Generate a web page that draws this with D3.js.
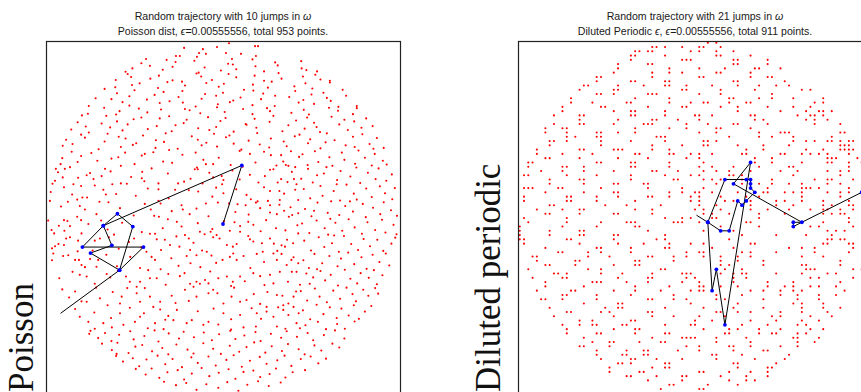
<!DOCTYPE html>
<html>
<head>
<meta charset="utf-8">
<script src="https://cdn.jsdelivr.net/npm/d3@7"></script>
<style>
  html, body { margin: 0; padding: 0; background: #fff; }
  svg { display: block; }
</style>
</head>
<body>
<svg id="chart" width="861" height="392"></svg>
<script>
// Grid step shared by both panels; every coordinate below is given in grid steps.
const GRID = 1 / 41;

// Panel titles and side labels
const titles = [
  ["Random trajectory with 10 jumps in ω", "Poisson dist, ϵ=0.00555556, total 953 points."],
  ["Random trajectory with 21 jumps in ω", "Diluted Periodic ϵ, ϵ=0.00555556, total 911 points."]
];
const sideLabels = ["Poisson", "Diluted periodic"];

// Trajectory of the Poisson panel (first position has no marker)
const poissonTrajX = [-38.0, -24.2, -21.1, -24.7, -28.0, -32.9, -18.6, -24.2, -31.0, -26.0, -28.0, 4.4, 0.0];
const poissonTrajY = [-22.3, -12.2, -2.0, 1.0, -1.8, -6.8, -6.8, -12.2, -8.2, -6.4, -1.8, 12.3, -1.4];

// Trajectory of the diluted periodic panel, on lattice sites
const periodicTrajX = [0.35, 3, 6, 8, 10, 11, 12, 14, 13, 13, 13, 12, 7, 3, 4, 5, 7, 13, 9, 25, 23, 23, 39];
const periodicTrajY = [0.66, -1, -3, -3, 4, 3, 4, 6, 7, 8, 9, 9, 9, -1, -17, -12, -25, 13, 8, -1, -1, -2, 6];

// Poisson sample points [x, y]
const poissonPts = [
[-9.1,39.8],[-4.7,39.5],[-5.6,38.6],[-4.0,38.4],[-1.4,40.0],[1.4,40.9],[0.7,38.6],[4.2,38.4],[7.5,40.2],[8.2,40.2],[7.7,37.9],[-11.0,37.9],[-10.1,37.9],[-18.0,37.2],[-6.1,37.7],[2.1,37.2],
[-19.1,36.2],[-13.2,37.0],[-11.1,36.5],[-6.7,36.8],[1.2,36.1],[6.9,37.1],[12.2,36.4],[18.3,36.7],
[-22.8,34.2],[-21.2,35.0],[-17.1,35.6],[-14.1,34.7],[-11.8,35.4],[-5.7,34.0],[-4.3,35.2],[-0.5,34.5],[2.3,35.9],[3.1,34.8],[7.6,35.5],[9.6,34.3],[12.8,35.7],[18.4,35.0],[19.5,34.6],[22.0,34.3],
[-25.1,32.3],[-22.3,33.7],[-21.5,33.0],[-17.0,32.6],[-15.0,33.3],[-11.8,32.2],[-6.2,33.8],[-5.1,33.1],[-2.6,32.3],[1.3,33.7],[3.1,32.9],[7.4,33.3],[9.6,32.1],[13.0,33.9],[13.7,32.6],[18.7,33.1],[21.6,33.5],[22.8,32.4],[25.0,32.1],
[-27.7,30.2],[-25.2,30.6],[-21.3,31.1],[-19.5,31.5],[-15.2,30.4],[-13.0,31.8],[-9.6,31.9],[-8.9,31.0],[-3.9,31.6],[-1.0,30.7],[0.2,31.4],[4.9,30.0],[7.0,31.2],[10.5,30.5],[11.4,31.9],[16.7,30.8],[19.3,31.5],[20.9,30.3],[25.0,31.7],[28.0,30.0],
[-29.8,28.0],[-24.8,29.2],[-21.9,28.5],[-20.7,29.9],[-16.0,28.8],[-13.9,29.5],[-10.4,28.3],[-9.5,29.7],[-4.2,29.0],[-1.6,28.6],[0.0,29.3],[4.1,28.2],[7.1,29.8],[9.4,29.1],[12.2,28.6],[15.5,28.3],[16.9,29.7],[20.7,28.9],[23.5,29.3],[24.3,28.1],[28.8,28.6],
[-31.4,26.2],[-26.1,27.8],[-23.5,27.1],[-21.9,26.3],[-17.8,27.7],[-14.8,26.9],[-12.5,27.3],[-9.4,27.0],[-6.4,26.1],[-5.0,27.9],[-1.2,26.6],[1.6,27.1],[2.4,27.5],[6.9,26.4],[8.9,27.8],[12.1,26.2],[17.7,27.0],[18.8,27.6],[21.3,26.7],[25.2,27.4],[27.0,26.0],[31.3,26.2],
[-33.0,24.0],[-31.6,24.4],[-27.8,25.8],[-25.0,24.2],[-24.2,25.0],[-19.7,25.6],[-17.7,24.7],[-14.5,25.4],[-8.9,25.5],[-7.8,25.2],[-5.3,24.5],[-1.4,25.9],[0.4,24.8],[4.7,25.5],[6.9,24.3],[10.3,25.7],[11.0,25.0],[16.0,24.6],[18.9,25.3],[20.1,24.2],[24.8,25.8],[26.9,25.1],[30.4,24.3],[31.3,25.7],
[-34.0,22.4],[-28.4,22.1],[-27.3,23.9],[-24.8,22.6],[-20.9,23.1],[-19.1,23.5],[-14.8,23.3],[-12.6,23.8],[-9.2,22.2],[-8.5,23.0],[-3.5,23.6],[-0.6,22.7],[0.6,23.4],[5.3,22.0],[7.4,23.2],[10.9,22.5],[11.8,23.9],[17.1,22.8],[19.7,23.5],[21.3,22.3],[25.4,23.7],[28.4,23.0],[30.7,22.6],[33.5,23.3],
[-35.5,20.7],[-32.1,21.4],[-31.4,20.0],[-26.4,21.2],[-23.5,20.5],[-22.3,21.9],[-17.6,20.8],[-15.5,21.5],[-12.0,20.3],[-11.1,21.7],[-5.8,21.0],[-3.2,20.6],[-1.6,21.3],[2.5,20.2],[5.5,21.8],[7.8,21.1],[13.9,20.3],[15.3,21.7],[19.1,20.9],[21.9,21.3],[22.7,20.1],[27.2,21.9],[29.2,20.6],[32.4,21.1],[35.0,21.5],
[-36.7,18.3],[-33.2,19.5],[-32.3,18.8],[-27.0,19.7],[-24.4,19.0],[-22.8,18.6],[-18.7,19.3],[-15.7,18.2],[-13.4,19.8],[-7.3,19.1],[-5.9,18.3],[-2.1,19.7],[0.7,18.9],[1.5,19.3],[6.0,18.1],[8.0,19.9],[11.2,18.6],[16.8,19.1],[17.9,19.5],[20.4,18.4],[24.3,19.8],[26.1,18.2],[30.4,19.0],[32.6,19.6],[36.0,18.7],
[-37.5,16.9],[-35.2,17.3],[-29.1,16.1],[-27.7,17.9],[-23.9,16.6],[-21.1,17.1],[-20.3,17.5],[-15.8,16.4],[-13.8,17.8],[-10.6,16.2],[-5.0,17.0],[-3.9,17.6],[-1.4,16.7],[2.5,17.4],[4.3,16.0],[8.6,17.2],[10.8,16.5],[14.2,17.9],[14.9,16.8],[19.9,17.5],[22.8,16.3],[24.0,17.7],[28.7,17.0],[30.8,16.6],[34.3,17.3],[35.2,16.2],[37.6,16.4],
[-35.4,15.5],[-37.6,14.0],[-33.2,14.5],[-29.4,13.4],[-24.5,14.2],[-22.9,15.3],[-19.0,14.6],[-18.3,15.0],[-14.0,13.2],[-23.9,12.2],[-27.6,11.5],[-38.0,12.6],[-39.1,11.5],[-37.0,11.5],[-6.4,15.3],[-4.6,13.6],[-4.0,12.6],[-2.3,12.6],[-6.6,11.4],[-5.9,11.4],[6.3,15.0],[9.6,15.5],[11.2,14.7],[13.6,14.7],[15.9,15.6],[14.1,13.2],[14.7,12.4],[15.3,12.2],[16.9,11.9],
[-31.1,10.5],[-31.9,10.0],[-30.3,9.1],[-33.9,9.4],[-37.5,9.5],[-39.3,8.7],[-39.9,8.0],[-35.0,7.9],[-33.2,7.5],[-30.0,7.6],[-37.2,7.2],[-23.9,8.1],[-18.9,10.8],[-19.0,9.3],[-15.1,8.1],[-10.5,8.1],[-9.1,8.5],[-4.8,8.1],[-2.3,9.5],[-0.3,9.8],[0.1,8.9],[-0.2,7.9],[2.2,11.1],[6.3,10.1],[9.8,9.8],[8.3,8.3],[11.8,11.4],[12.8,8.3],[13.6,9.1],[16.1,10.8],[16.6,9.1],[16.9,6.6],[11.0,6.3],[13.2,6.3],[-15.1,6.7],[-11.2,6.6],
[-35.3,5.5],[-32.9,4.8],[-31.8,4.8],[-27.4,5.5],[-25.0,5.6],[-40.5,4.0],[-33.5,2.8],[-32.3,2.0],[-28.9,3.8],[-26.8,3.7],[-15.1,4.0],[-14.6,3.4],[-9.7,3.0],[-9.4,2.0],[-5.8,6.2],[-4.0,3.4],[-1.2,3.6],[0.1,5.8],[1.4,3.4],[3.4,3.2],[5.3,3.0],[6.5,4.4],[7.7,3.6],[8.7,2.3],[10.5,4.0],[11.0,3.0],[14.3,5.7],[14.3,1.7],[17.6,4.2],
[-40.9,-0.6],[-37.2,-0.5],[-36.4,-0.7],[-34.1,0.3],[-33.2,-0.5],[-28.5,-0.6],[-40.1,-2.8],[-38.4,-1.8],[-35.8,-1.9],[-16.1,0.5],[-15.0,0.3],[-12.9,-0.3],[-10.8,-0.9],[-9.7,-2.0],[-7.8,0.9],[-2.5,-2.6],[-2.9,-3.2],[1.6,-3.0],[4.0,-1.9],[5.9,-0.9],[11.0,1.3],[12.6,0.9],[15.4,0.3],[16.2,0.7],[17.6,1.1],[7.1,-1.6],[4.0,-3.2],[12.4,-2.4],
[-37.1,-3.0],[-35.8,-4.5],[-36.7,-4.8],[-33.9,-5.3],[-33.1,-3.6],[-39.3,-6.6],[-38.5,-6.1],[-37.2,-6.3],[-40.0,-7.1],[-39.7,-8.3],[-30.0,-5.3],[-28.8,-4.8],[-20.8,-4.8],[-17.1,-3.7],[-15.9,-3.7],[-15.5,-5.0],[-14.5,-7.5],[-13.6,-5.1],[-12.4,-6.3],[-10.2,-6.7],[-8.9,-4.0],[-8.0,-4.8],[-5.4,-3.2],[-2.3,-4.5],[-1.5,-4.0],[0.9,-6.3],[2.3,-6.7],[3.2,-6.1],[6.3,-5.0],[7.1,-5.5],[9.1,-5.9],[11.0,-4.8],[12.7,-7.7],[13.7,-6.4],[14.5,-6.7],[15.0,-5.1],[17.6,-3.6],
[-37.4,-8.9],[-36.2,-8.7],[-34.6,-9.8],[-33.7,-9.8],[-33.1,-11.0],[-32.3,-11.5],[-29.6,-11.4],[-29.2,-9.8],[-17.9,-7.9],[-16.7,-9.1],[-15.9,-9.8],[-14.6,-12.0],[-8.5,-8.9],[-7.7,-7.5],[-6.2,-8.7],[-3.8,-7.9],[-1.6,-10.5],[-0.1,-9.8],[1.6,-9.1],[2.4,-8.3],[3.2,-9.8],[4.8,-8.9],[7.9,-8.4],[11.8,-8.3],[12.6,-9.8],[13.7,-8.4],[14.9,-11.0],[16.5,-9.2],[17.6,-10.6],
[-33.5,-13.3],[-31.9,-13.7],[-27.2,-13.1],[-22.7,-13.7],[-21.8,-14.9],[-20.2,-16.1],[-19.4,-14.9],[-17.5,-12.2],[-17.1,-14.1],[-15.5,-14.1],[-12.8,-13.1],[-10.1,-13.6],[-6.2,-14.9],[-5.4,-15.4],[-4.2,-14.5],[-3.4,-15.3],[-1.1,-14.1],[0.9,-13.7],[2.3,-14.9],[4.0,-13.7],[7.1,-12.9],[8.7,-13.6],[11.0,-13.3],[13.3,-12.6],[16.1,-12.6],[17.2,-12.6],[11.8,-15.3],
[-31.9,-19.6],[-34.6,-17.2],[-28.8,-18.8],[-27.0,-20.4],[-23.7,-18.4],[-24.1,-20.0],[-20.2,-17.6],[-19.4,-19.6],[-17.1,-18.4],[-16.3,-20.8],[-14.7,-19.6],[-12.0,-18.2],[-8.9,-16.8],[-8.0,-19.4],[-6.2,-18.4],[-3.4,-17.6],[-2.3,-16.8],[0.1,-20.0],[2.0,-18.4],[4.0,-19.6],[5.5,-19.2],[8.7,-20.1],[10.2,-20.8],[12.6,-18.0],[14.1,-20.4],[15.3,-20.0],[16.5,-18.4],[17.1,-17.2],[14.1,-21.5],[-36.0,-18.6],
[-33.5,-23.1],[-31.5,-24.3],[-28.0,-24.6],[-24.1,-22.3],[-23.3,-25.0],[-20.6,-24.3],[-19.4,-23.1],[-18.5,-22.3],[-15.9,-24.6],[-12.8,-22.9],[-11.6,-23.9],[-10.8,-21.5],[-8.5,-24.6],[-7.3,-23.9],[-4.6,-25.0],[-3.4,-24.3],[0.1,-22.3],[4.0,-22.7],[4.8,-25.6],[7.9,-22.3],[10.2,-21.9],[11.8,-23.1],[12.6,-25.4],[15.3,-22.7],[16.5,-20.8],[17.2,-24.6],[18.0,-25.8],
[-31.3,-27.1],[-24.9,-31.8],
[-34.0,13.1],[-30.8,15.2],[-26.1,13.9],[-20.7,12.6],[-16.3,15.4],[-11.9,12.9],[-9.5,14.8],[-1.0,14.1],[1.8,12.4],[3.9,15.7],[7.6,13.0],[12.5,12.3],[17.8,14.3],[-12.6,15.9],
[-38.6,10.7],[-35.8,11.9],[-28.4,9.8],[-26.3,10.9],[-21.5,9.6],[-16.7,11.6],[-12.9,10.4],[-7.6,9.2],[-6.1,11.8],[3.9,9.0],[4.6,12.0],[11.0,11.3],[15.1,8.4],[-18.4,8.6],[-3.2,10.6],
[-40.3,6.1],[-28.0,6.6],[-25.9,7.9],[-20.4,5.2],[-17.6,6.9],[-12.7,4.6],[-8.0,6.5],[-2.5,5.0],[-1.6,7.1],[3.1,6.7],[5.5,5.4],[9.6,7.2],[13.3,4.2],[17.2,7.9],[-34.1,4.3],[-22.5,8.0],
[-37.9,2.7],[-36.3,3.8],[-29.6,0.9],[-24.1,2.3],[-20.9,0.6],[-18.3,3.3],[-12.0,1.6],[-6.2,2.2],[-3.4,0.4],[2.9,1.4],[6.0,0.8],[8.1,3.9],[13.2,3.1],[15.8,2.5],[-16.9,2.0],
[-39.5,-3.6],[-31.5,-1.4],[-27.0,-2.7],[-23.6,-1.1],[-19.0,-3.3],[-14.1,-2.4],[-5.9,-1.2],[-4.3,-3.8],[0.2,-0.8],[2.7,-1.0],[8.8,-3.1],[10.1,-0.5],[14.6,-2.9],[17.4,-1.7],[-25.5,-3.9],
[-30.5,-7.6],[-26.7,-4.5],[-24.4,-7.2],[-22.0,-5.6],[-19.1,-6.9],[-10.9,-4.3],[-6.9,-5.8],[-4.9,-7.6],[-0.8,-4.8],[5.9,-4.2],[9.3,-7.9],[11.9,-6.0],[16.4,-5.9],[-34.0,-7.8],
[-40.0,-9.9],[-31.1,-9.6],[-27.3,-8.6],[-24.8,-11.3],[-21.7,-9.1],[-19.4,-11.7],[-12.1,-9.4],[-10.4,-11.2],[-5.3,-11.5],[-2.7,-8.8],[6.4,-11.7],[9.6,-10.3],[16.0,-9.8],[-7.6,-10.6],
[-38.3,-14.1],[-35.2,-12.6],[-30.0,-15.4],[-26.4,-13.9],[-24.6,-12.3],[-13.4,-15.6],[-9.0,-12.9],[-7.7,-15.4],[-3.0,-12.5],[1.9,-15.9],[5.1,-14.8],[9.7,-15.7],[15.2,-14.9],[18.0,-15.6],
[-37.6,-16.7],[-33.1,-19.5],[-29.7,-16.3],[-25.8,-17.3],[-22.4,-16.4],[-18.3,-16.4],[-11.1,-19.9],[-6.9,-16.1],[-1.3,-17.6],[2.6,-16.3],[7.2,-17.8],[10.4,-17.3],[13.9,-18.2],
[-34.6,-21.3],[-30.1,-22.1],[-26.2,-23.4],[-21.8,-21.0],[-14.7,-21.4],[-13.5,-23.8],[-5.9,-21.8],[-2.2,-21.2],[1.9,-23.7],[6.7,-21.1],[8.9,-23.6],[12.9,-20.9],[17.7,-22.3],
[-30.0,-25.9],[-26.0,-25.6],[-17.6,-25.8],[-13.9,-26.0],[-1.1,-24.9],[1.9,-26.1],[7.7,-25.4],[14.6,-25.9],
[18.6,14.9],[19.8,12.4],[21.5,15.6],[22.3,13.1],[24.9,14.2],[25.6,12.2],[27.8,15.3],[28.4,13.6],[30.9,12.7],[31.7,15.8],[33.2,14.1],[34.8,12.3],[35.5,15.0],[37.4,13.4],[38.3,12.5],
[18.3,9.2],[19.9,11.5],[21.0,8.3],[22.0,10.0],[23.6,10.4],[24.2,11.9],[26.7,8.9],[27.5,11.0],[29.8,9.7],[31.2,11.8],[32.1,8.2],[33.9,10.6],[35.7,9.1],[36.4,11.6],[38.2,8.7],[39.5,10.2],
[18.9,6.8],[20.4,4.6],[22.8,7.5],[23.3,5.2],[25.9,6.3],[26.6,7.9],[27.4,4.1],[28.9,7.8],[30.6,5.7],[31.3,4.3],[33.5,6.9],[34.8,4.9],[36.7,7.4],[37.9,5.8],[39.6,4.4],[40.2,7.0],
[19.2,2.1],[20.7,0.4],[21.3,1.7],[22.1,3.6],[24.5,1.2],[25.3,3.9],[27.2,0.7],[28.6,2.8],[29.7,3.9],[30.4,1.5],[32.7,3.3],[33.4,0.2],[35.1,2.4],[36.8,0.9],[37.6,3.7],[39.3,1.8],[40.7,0.5],
[18.5,-1.3],[20.2,-3.5],[21.9,-0.6],[23.8,-2.4],[24.6,-3.9],[25.1,-0.2],[26.3,-1.1],[27.9,-3.0],[29.4,-0.3],[30.8,-2.2],[32.5,-3.7],[33.8,-1.0],[35.6,-2.8],[37.2,-0.4],[38.0,-3.4],[39.9,-1.6],[40.6,-3.8],
[19.0,-5.3],[20.6,-7.6],[22.4,-4.5],[23.7,-6.8],[25.5,-5.9],[26.0,-4.1],[27.1,-7.9],[28.3,-4.2],[30.0,-6.1],[31.6,-7.5],[32.9,-4.9],[34.4,-6.6],[36.1,-5.1],[37.5,-7.7],[39.4,-6.0],[40.3,-4.6],
[18.8,-9.9],[20.1,-11.7],[21.4,-8.4],[22.0,-12.0],[23.2,-10.6],[24.9,-8.9],[26.8,-11.3],[27.6,-9.5],[29.3,-8.1],[30.7,-10.8],[32.4,-9.2],[33.6,-11.9],[35.0,-8.6],[36.6,-10.3],[38.1,-8.3],[38.9,-11.1],
[19.5,-13.0],[20.3,-15.4],[21.1,-13.9],[22.8,-12.4],[23.9,-14.6],[25.2,-13.3],[26.9,-15.8],[28.5,-12.1],[29.8,-14.2],[31.4,-15.3],[32.2,-12.9],[34.1,-14.0],[35.3,-12.2],[36.0,-15.5],[37.3,-13.4],
[18.2,-17.1],[19.7,-19.3],[21.5,-16.5],[22.6,-18.4],[24.3,-19.7],[25.8,-17.0],[27.4,-18.9],[28.9,-16.3],[30.3,-17.8],[31.1,-19.5],[32.8,-16.8],[34.0,-18.2],[35.6,-16.4],[36.3,-17.7],
[18.7,-21.6],[20.4,-23.7],[21.9,-20.3],[23.5,-22.5],[25.0,-20.9],[26.6,-23.4],[27.7,-21.2],[29.4,-22.8],[30.6,-20.4],[31.8,-23.6],[33.2,-21.9],[34.7,-20.6],
[19.3,-25.1],[22.2,-24.3],[24.1,-26.0],[26.7,-24.8],[28.5,-25.9],[30.8,-24.2],
[-31.0,-26.4],[-29.2,-28.1],[-27.6,-26.9],[-26.1,-28.8],[-24.3,-27.3],[-21.7,-26.5],[-20.9,-28.4],[-18.4,-27.6],[-16.0,-26.3],[-15.1,-28.9],[-12.7,-27.0],[-10.3,-28.2],[-9.2,-26.6],[-6.8,-27.9],[-4.5,-26.8],[-2.6,-28.6],[-0.9,-27.2],[1.7,-26.4],[2.9,-28.3],[5.0,-27.5],[7.6,-26.7],[8.8,-28.8],[11.2,-27.1],[13.6,-28.0],[14.9,-26.5],[17.3,-27.8],[19.8,-26.9],[21.1,-28.6],[23.6,-27.4],[26.2,-26.3],[28.4,-28.2],
[-28.3,-29.4],[-26.0,-30.9],[-24.7,-29.2],[-22.1,-31.6],[-20.5,-30.1],[-18.9,-29.7],[-16.6,-31.2],[-14.2,-30.4],[-12.8,-31.9],[-10.9,-29.6],[-8.3,-30.8],[-6.9,-31.7],[-4.6,-29.3],[-2.3,-30.6],[-0.5,-31.8],[1.6,-29.9],[3.8,-31.3],[5.5,-30.2],[7.3,-29.1],[9.9,-31.5],[11.4,-30.0],[13.8,-31.1],[15.2,-29.5],[17.7,-30.7],[19.1,-31.9],[21.4,-29.8],[23.0,-31.0],[25.6,-29.4],[27.2,-30.3],
[-25.0,-32.3],[-23.4,-33.6],[-21.1,-32.8],[-19.6,-34.7],[-17.9,-33.1],[-15.3,-32.2],[-13.5,-34.2],[-11.8,-33.0],[-9.6,-34.9],[-7.4,-32.6],[-5.9,-33.9],[-3.4,-32.4],[-1.7,-34.5],[0.8,-33.2],[2.5,-32.1],[4.4,-34.8],[6.3,-33.4],[8.6,-32.5],[10.2,-34.1],[12.7,-33.3],[14.4,-32.2],[16.0,-34.6],[18.2,-33.0],[20.5,-32.4],[22.3,-34.0],[24.1,-32.9],
[-20.4,-35.3],[-18.1,-36.6],[-16.7,-35.2],[-14.9,-37.4],[-13.0,-36.1],[-10.6,-35.6],[-9.1,-37.8],[-7.3,-36.4],[-5.0,-35.1],[-3.2,-37.0],[-1.0,-36.2],[1.3,-35.4],[2.9,-37.6],[4.8,-36.0],[7.1,-35.7],[8.7,-37.2],[10.9,-36.5],[12.4,-35.2],[14.6,-37.3],[16.3,-36.1],[19.2,-35.6],
[-13.8,-38.3],[-11.0,-39.1],[-8.6,-38.6],[-6.2,-40.2],[-3.9,-38.9],[-1.1,-39.7],[1.0,-38.4],[3.6,-40.4],[5.7,-39.0],[8.2,-38.2],[10.7,-39.3],[13.5,-38.5]
];

// Occupied lattice sites of the diluted periodic panel: one list of column
// indices per lattice row, from row 41 (top) down to row -41 (bottom).
const periodicTopRow = 41;
const periodicRows = [
[3,5],
[-10,-9,-7,-3,1,2,6],
[-14,-13,-11,-10,-1,1,5,9],
[-15,-14,-7,5,6,13],
[-15,-3,-2,-1,9,10,17],
[-18,-11,-10,9,10,17],
[-18,-6,1,7,14,15,20],
[-19,-10,-6,-3,5,6,13],
[-23,-22,-10,1,2,13,17,18],
[-23,-15,-14,-7,-6,9,10,21],
[-26,-25,-18,-12,-7,-6,-2,4,10,15,19,22],
[-27,-19,-18,-3,-2,6,14,25,27],
[-23,-22,-19,-11,-10,-9,1,6,18],
[-29,-14,-6,8,9,15,18,23,30],
[-29,-24,-16,-15,-6,-1,2,3,8,12,13,28,30],
[-31,-22,-21,-11,-3,-2,6,10,17,23,27],
[-31,-19,-15,-14,-7,10,20,26,29,30,32],
[-33,-27,-26,-15,-14,-7,0,1,4,13,14,24,27,28,30],
[-27,-18,-10,-9,-4,1,14,16,26,28,31],
[-33,-27,-26,-19,-12,-11,-10,-2,3,9,10,17,28,34],
[-35,-31,-30,-14,-6,-2,5,6,13],
[-35,-30,-23,-22,-18,-14,1,5,15,20,21,22,34,35],
[-30,-28,-23,-22,-9,-8,-7,8,15,18,23,32],
[-34,-33,-30,-22,-15,-7,2,3,5,23,26,28,31,32,34,36,37],
[-34,-22,-10,-3,2,3,10,16,22,34,35,36],
[-37,-27,-26,-19,-18,-17,-10,-6,12,16,26,30,34,35,36,37],
[-37,-31,-24,-14,-13,-6,-5,-1,1,4,11,12,20,21,25,27,29,31,36],
[-35,-34,-27,-18,-11,-2,1,14,18,31,32,33,38],
[-39,-38,-23,-22,-15,-14,-6,2,14,18,25,31,32,36,39],
[-39,-31,-30,-26,-15,-14,-6,1,4,9,15,22,23,36],
[-36,-31,-26,-19,-10,-9,-4,2,5,8,13,20,24,31,34,36],
[-40,-39,-30,-23,-15,-7,-1,1,8,9,11,23,34],
[-34,-27,-26,-15,-5,-4,2,4,6,11,18,28,31,32,37],
[-34,-26,-19,-18,-12,-11,5,11,15,18,22,25,31,34],
[-40,-39,-38,-32,-31,-22,-11,-3,2,17,25,26,27,29,36],
[-35,-26,-19,-18,-6,-3,0,1,4,10,16,17,21,23,25,31,34,36],
[-40,-30,-29,-23,-18,-11,-10,-6,-1,1,6,12,15,25,34],
[-40,-30,-29,-23,-14,-1,1,7,9,13,19,21,25,30,36],
[-34,-33,-21,-16,-8,1,5,13,19,23,30,32,36,37],
[-37,-31,-27,-26,-14,-10,0,2,6,13,17,22,27,30,31,34,37],
[-35,-34,-27,-19,-18,-10,2,4,8,15,21,30,32,34,35],
[-40,-30,-7,-3,-1,4,5,15,36],
[-39,-30,-22,-16,-15,-14,-5,-4,-3,1,12,13,30,36],
[-41,-31,-23,-14,-13,6,15,23,27,29,37],
[-41,-34,-27,-26,-11,2,9,31,33,35],
[-41,-34,-27,-26,-19,-18,-7,11,19,26,32],
[-41,-40,-30,-29,-19,-9,-7,8,31,32,34,35],
[-40,-27,-18,-12,-6,-1,2,13,14,30,31,36,37],
[-35,-23,-22,-15,-7,-6,4,9,22,25,28,37],
[-32,-31,-25,-22,-15,-2,1,2,11,13,19,28,36],
[-38,-37,-25,-20,-11,-10,-5,-2,2,6,10,13,25,30],
[-37,-28,-27,-14,-13,-5,6,10,16,34],
[-35,-34,-28,-19,-14,-13,6,8,16,25,26,34],
[-39,-25,-22,-8,-7,5,7,11,26,27,28,37,39],
[-33,-32,-30,-22,-17,-10,-3,-2,-1,6,9,11,12,19,25,31,33],
[-38,-31,-30,-18,-11,-10,-2,0,9,12,27,29,37],
[-35,-24,-23,-22,-16,-11,-3,1,9,17,23,34],
[-35,-26,-14,-6,1,2,6,10,17,21,23,27,29,33],
[-37,-29,-28,-19,-14,-8,-1,1,2,13,16,20,23,25,35],
[-31,-30,-23,-15,-5,5,11,20,24,29,33],
[-36,-35,-31,-23,-11,-10,-5,-2,5,7,16,24,29],
[-26,-18,-17,-1,10,23,25,30],
[-34,-21,-18,-17,-7,2,9,16,25,30,34],
[-30,-29,-22,-20,-11,-10,5,6,10,13,20,25,31],
[-33,-19,-10,-5,1,7,18,20,27,32],
[-27,-24,-15,-14,0,4,13,19,25,29],
[-31,-27,-24,-23,-17,-16,-7,-1,0,7,11,17,24,26],
[-30,-19,-14,-13,2,8,10,15,20,27,30],
[-30,-23,-22,-14,-7,-6,7,8,15,18,19,24,26],
[-26,-10,-3,-2,-1,0,5,12,23,24,29],
[-24,-20,-19,-13,-8,-7,5,13,24,28],
[-27,-26,-20,-2,1,8,9,13,20,24],
[-23,-16,-12,-11,-4,1,9,16,17],
[-23,-17,-16,-12,-11,4,5,11,22],
[-22,-15,-14,-9,-3,5,14,21],
[-18,-17,-15,-7,-6,9,10,19],
[-20,-10,-7,-6,10,17,18],
[-20,-13,-12,1,2,8,13,17],
[-16,-15,-9,-3,-2,6,12,17],
[-11,-3,8,12,14],
[-6,-5,3,10],
[-8,1,2],
[-1]
];

const svg = d3.select("#chart");
const SIZE = 354, TOP = 41;
const panelLeft = [46, 518];
const titleFont = "Liberation Sans, Arial, Helvetica, sans-serif";

// Title line with Greek symbols set in italics
function titleLine(g, x, y, str) {
  const t = g.append("text").attr("x", x).attr("y", y)
    .attr("text-anchor", "middle").attr("font-family", titleFont)
    .attr("font-size", 10.6).attr("fill", "#1a1a1a");
  str.split(/([ωϵ])/).filter(s => s.length).forEach(part => {
    const sp = t.append("tspan").text(part);
    if (part === "ω" || part === "ϵ") sp.attr("font-style", "italic");
  });
}

function drawPanel(k, pts, trajX, trajY) {
  const x0 = panelLeft[k];
  const x = d3.scaleLinear().domain([-1.01, 1.01]).range([x0, x0 + SIZE]);
  const y = d3.scaleLinear().domain([-1.01, 1.01]).range([TOP + SIZE, TOP]);
  const g = svg.append("g");

  g.append("g").selectAll("circle").data(pts).join("circle")
    .attr("cx", d => x(d[0] * GRID)).attr("cy", d => y(d[1] * GRID))
    .attr("r", 1.05).attr("fill", "#ff0000");

  const traj = trajX.map((v, i) => [v * GRID, trajY[i] * GRID]);
  g.append("path").datum(traj)
    .attr("d", d3.line().x(d => x(d[0])).y(d => y(d[1])))
    .attr("fill", "none").attr("stroke", "#000").attr("stroke-width", 1);

  g.append("g").selectAll("circle").data(traj.slice(1)).join("circle")
    .attr("cx", d => x(d[0])).attr("cy", d => y(d[1]))
    .attr("r", 1.9).attr("fill", "#0000ff");

  // axes frame
  g.append("rect")
    .attr("x", x0 + 0.5).attr("y", TOP + 0.5)
    .attr("width", SIZE).attr("height", SIZE)
    .attr("fill", "none").attr("stroke", "#222").attr("stroke-width", 1.2);

  const cx = x0 + SIZE / 2;
  titleLine(g, cx, 19.5, titles[k][0]);
  titleLine(g, cx, 35.3, titles[k][1]);
}

drawPanel(0, poissonPts, poissonTrajX, poissonTrajY);

const latticePts = [];
periodicRows.forEach((row, r) => row.forEach(i => latticePts.push([i, periodicTopRow - r])));
drawPanel(1, latticePts, periodicTrajX, periodicTrajY);

// side labels
const labelX = [33, 500];
sideLabels.forEach((t, k) => {
  svg.append("text")
    .attr("transform", `translate(${labelX[k]},392) rotate(-90)`)
    .attr("font-family", "Liberation Serif, Times New Roman, serif")
    .attr("font-size", 35).attr("fill", "#111").text(t);
});
</script>
</body>
</html>
